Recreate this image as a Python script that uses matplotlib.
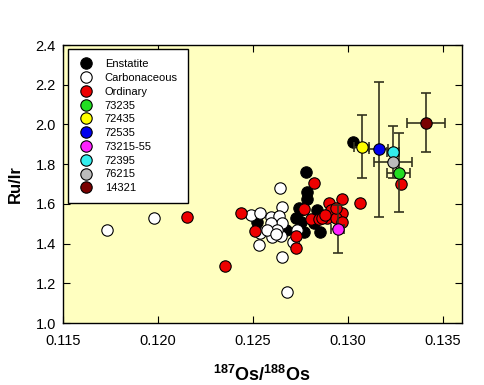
import matplotlib
matplotlib.use("Agg")
import matplotlib.pyplot as plt
from matplotlib.lines import Line2D

plt.rcParams['font.family'] = ['Liberation Sans', 'DejaVu Sans']
plt.rcParams['mathtext.fontset'] = 'custom'
plt.rcParams['mathtext.rm'] = 'Liberation Sans'
plt.rcParams['mathtext.bf'] = 'Liberation Sans:bold'

# chondrite groups
enst_x = [0.12779, 0.12784, 0.12784, 0.12743, 0.12840, 0.12726, 0.12752, 0.12770,
          0.12854, 0.12673, 0.12524, 0.12822, 0.13028, 0.12752]
enst_y = [1.762, 1.661, 1.623, 1.577, 1.569, 1.527, 1.510, 1.460,
          1.460, 1.468, 1.509, 1.502, 1.910, 1.569]

carb_x = [0.11732, 0.11978, 0.12678, 0.12656, 0.12643, 0.12656, 0.12532, 0.12488,
          0.12537, 0.12594, 0.12638, 0.12656, 0.12594, 0.12603, 0.12647, 0.12540,
          0.12626, 0.12577, 0.12731, 0.12714, 0.12620]
carb_y = [1.468, 1.527, 1.158, 1.334, 1.678, 1.586, 1.393, 1.542,
          1.555, 1.535, 1.539, 1.502, 1.502, 1.432, 1.438, 1.455,
          1.468, 1.468, 1.468, 1.410, 1.450]

ord_x = [0.12154, 0.12351, 0.12439, 0.12511, 0.12726, 0.12726, 0.12822, 0.12770,
         0.12805, 0.12849, 0.12893, 0.12902, 0.12967, 0.12910, 0.12972, 0.12937,
         0.12972, 0.12865, 0.12937, 0.13065, 0.13280, 0.12880]
ord_y = [1.532, 1.285, 1.554, 1.462, 1.438, 1.379, 1.703, 1.572,
         1.522, 1.522, 1.527, 1.603, 1.623, 1.569, 1.555, 1.527,
         1.510, 1.527, 1.577, 1.603, 1.698, 1.545]

# lunar samples with error bars
samples = ['73235', '72435', '72535', '73215-55', '72395', '76215', '14321']
samp_x = [0.13268, 0.13074, 0.13162, 0.12946, 0.13239, 0.13239, 0.13412]
samp_y = [1.757, 1.888, 1.876, 1.473, 1.860, 1.809, 2.009]
samp_xerr = [0.0006, 0.0004, 0.0005, 0.00035, 0.0003, 0.0010, 0.0010]
samp_yerr = [0.20, 0.16, 0.34, 0.12, 0.13, 0.0, 0.15]
samp_col = ['#22DD22', '#FFFF00', '#0000EE', '#FF22FF', '#33EEEE', '#BBBBBB', '#7A0000']

fig = plt.figure(figsize=(4.84, 3.85), dpi=100)
ax = fig.add_axes([0.130, 0.161, 0.824, 0.722])
ax.set_facecolor('#FFFFC0')

ms = 8.2
mew = 0.8
ax.plot(enst_x, enst_y, 'o', color='black', mec='black', ms=ms, mew=mew, zorder=3)
ax.plot(carb_x, carb_y, 'o', color='white', mec='black', ms=ms, mew=mew, zorder=3)
ax.plot(ord_x, ord_y, 'o', color='#EE0000', mec='black', ms=ms, mew=mew, zorder=3)

for i in range(len(samples)):
    ax.errorbar(samp_x[i], samp_y[i], xerr=samp_xerr[i], yerr=samp_yerr[i],
                fmt='none', ecolor='#33331f', elinewidth=1.2, capsize=3.5,
                capthick=1.2, zorder=4)
    ax.plot(samp_x[i], samp_y[i], 'o', color=samp_col[i], mec='black',
            ms=ms, mew=mew, zorder=5)

ax.set_xlim(0.115, 0.136)
ax.set_ylim(1.0, 2.4)
ax.set_xticks([0.115, 0.120, 0.125, 0.130, 0.135])
ax.set_xticklabels(['0.115', '0.120', '0.125', '0.130', '0.135'])
ax.set_yticks([1.0, 1.2, 1.4, 1.6, 1.8, 2.0, 2.2, 2.4])
ax.set_yticklabels(['1.0', '1.2', '1.4', '1.6', '1.8', '2.0', '2.2', '2.4'])
ax.tick_params(direction='in', length=5, width=0.8, top=True, right=True,
               labelsize=10.5)
ax.tick_params(axis='x', pad=8)
ax.tick_params(axis='y', pad=5)
for s in ax.spines.values():
    s.set_linewidth(1.0)

ax.set_xlabel(r'$\mathbf{{}^{187}Os/{}^{188}Os}$', fontsize=13, labelpad=12)
ax.set_ylabel('Ru/Ir', fontsize=12, fontweight='bold', labelpad=9)

handles = [
    Line2D([], [], ls='none', marker='o', color='black', mec='black', ms=ms, mew=mew),
    Line2D([], [], ls='none', marker='o', color='white', mec='black', ms=ms, mew=mew),
    Line2D([], [], ls='none', marker='o', color='#EE0000', mec='black', ms=ms, mew=mew),
]
for c in samp_col:
    handles.append(Line2D([], [], ls='none', marker='o', color=c, mec='black', ms=ms, mew=mew))
labels = ['Enstatite', 'Carbonaceous', 'Ordinary'] + samples
leg = ax.legend(handles, labels, loc='upper left', bbox_to_anchor=(0.013, 0.985),
                fontsize=8, frameon=True, fancybox=False, framealpha=1,
                edgecolor='black', handletextpad=1.0, labelspacing=0.34,
                borderpad=0.9, handlelength=1.4, borderaxespad=0)
leg.get_frame().set_linewidth(1.0)

fig.savefig('out.png', dpi=100)
